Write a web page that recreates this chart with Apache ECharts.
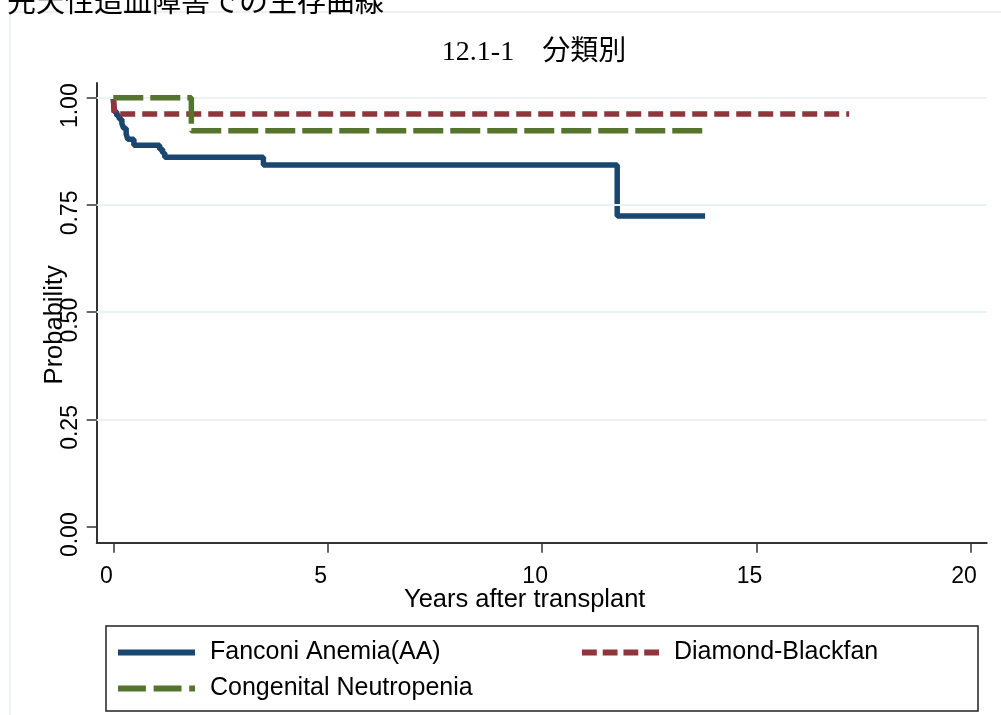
<!DOCTYPE html>
<html lang="ja">
<head>
  <meta charset="utf-8">
  <title>先天性造血障害での生存曲線</title>
  <script src="https://fastly.jsdelivr.net/npm/echarts@6.0.0/dist/echarts.min.js"></script>
  <style>
    * { margin: 0; padding: 0; }
    #main { width: 1001px; height: 715px; background: #fff; }
  </style>
</head>
<body>
  <div id="main"></div>
  <script>
    // series names
    var seriesNames = ['Fanconi Anemia(AA)', 'Diamond-Blackfan', 'Congenital Neutropenia'];

    // Kaplan-Meier steps (years, survival)
    var fanconiTime = [0, 0.02, 0.08, 0.14, 0.20, 0.24, 0.30, 0.34, 0.48, 1.08, 1.15, 1.20, 3.50, 11.75, 13.80];
    var fanconiSurv = [1, 0.967, 0.958, 0.950, 0.940, 0.929, 0.915, 0.903, 0.889, 0.880, 0.871, 0.861, 0.843, 0.724, 0.724];
    var diamondTime = [0, 0.03, 17.16];
    var diamondSurv = [1, 0.962, 0.962];
    var neutroTime = [0, 1.82, 13.85];
    var neutroSurv = [1, 0.923, 0.923];

    // axis ticks
    var xTicks = [0, 5, 10, 15, 20];
    var yTicks = [0, 0.25, 0.5, 0.75, 1];
    var yGrid = [0.25, 0.5, 0.75, 1];

    function pairs(t, s) {
      return t.map(function (v, i) { return [v, s[i]]; });
    }

    var sansFont = "'Liberation Sans', Arial, sans-serif";
    var colors = ['#1a476f', '#90353b', '#55752f'];

    // legend keys drawn as dash patterns
    var legendIcons = [
      'path://M0 0h80v6h-80z',
      'path://M0 0h15v6h-15zM21 0h15v6h-15zM42 0h15v6h-15zM63 0h15v6h-15z',
      'path://M0 0h29v6h-29zM37 0h29v6h-29zM74 0h6v6h-6z'
    ];

    var dom = document.getElementById('main');
    var myChart = echarts.init(dom, null, { renderer: 'canvas' });

    var legendText = { fontFamily: sansFont, fontSize: 25, color: '#000', padding: [0, 0, 0, 10] };

    function makeLegend(i, left, top) {
      return {
        data: [{ name: seriesNames[i], icon: legendIcons[i] }],
        left: left,
        top: top,
        padding: 0,
        itemWidth: 77,
        itemHeight: 6,
        itemGap: 15,
        textStyle: legendText
      };
    }

    var option = {
      backgroundColor: '#fff',
      animation: false,
      color: colors,
      grid: {
        left: 96.7,
        top: 83,
        right: 14.3,
        bottom: 172.3,
        containLabel: false,
        outerBoundsMode: 'none'
      },
      xAxis: {
        type: 'value',
        min: -0.387,
        max: 20.366,
        name: 'Years after transplant',
        nameLocation: 'middle',
        nameGap: 44,
        nameMoveOverlap: false,
        nameTextStyle: { fontFamily: sansFont, fontSize: 25.5, color: '#000', padding: [0, 34, 0, 0] },
        axisLine: { show: true, onZero: false, lineStyle: { color: '#333', width: 2 } },
        axisTick: { show: true, customValues: xTicks, length: 10, lineStyle: { color: '#333', width: 1.5 } },
        axisLabel: {
          customValues: xTicks,
          margin: 22,
          fontFamily: sansFont,
          fontSize: 23,
          color: '#000',
          padding: [0, 14, 0, 0]
        },
        splitLine: { show: false }
      },
      yAxis: {
        type: 'value',
        min: -0.0373,
        max: 1.0343,
        name: 'Probability',
        nameLocation: 'middle',
        nameGap: 29,
        nameRotate: 90,
        nameMoveOverlap: false,
        nameTextStyle: { fontFamily: sansFont, fontSize: 25.5, color: '#000', padding: [0, 24, 0, 0] },
        axisLine: { show: true, onZero: false, lineStyle: { color: '#333', width: 2 } },
        axisTick: { show: true, customValues: yTicks, length: 10, lineStyle: { color: '#333', width: 1.5 } },
        axisLabel: {
          customValues: yTicks,
          rotate: 90,
          margin: 15,
          fontFamily: sansFont,
          fontSize: 23,
          color: '#000',
          padding: [0, 16, 0, 0],
          formatter: function (v) { return v.toFixed(2); }
        },
        splitLine: { show: false }
      },
      legend: [
        makeLegend(0, 118, 640),
        makeLegend(1, 582, 640),
        makeLegend(2, 118, 676)
      ],
      graphic: [
        {
          type: 'polyline',
          silent: true,
          shape: { points: [[10, 720], [10, 12], [1010, 12]] },
          style: { stroke: '#e6eef0', lineWidth: 1.5, fill: null }
        },
        {
          type: 'text',
          left: 7,
          top: -14,
          style: {
            text: '先天性造血障害での生存曲線',
            font: "29px 'Noto Sans CJK JP'",
            fill: '#000'
          }
        },
        {
          type: 'text',
          x: 534,
          y: 53,
          style: {
            text: '12.1-1　分類別',
            font: "28px 'Liberation Serif', 'Noto Sans CJK JP', serif",
            fill: '#000',
            align: 'center',
            verticalAlign: 'middle'
          }
        },
        {
          type: 'rect',
          silent: true,
          shape: { x: 106, y: 626, width: 872, height: 85 },
          style: { stroke: '#222', lineWidth: 1.5, fill: null }
        }
      ],
      series: [
        {
          name: 'grid',
          type: 'line',
          data: [],
          z: 1,
          silent: true,
          markLine: {
            silent: true,
            symbol: 'none',
            label: { show: false },
            lineStyle: { color: '#eaf2f3', width: 2, type: 'solid' },
            data: yGrid.map(function (v) { return { yAxis: v }; })
          }
        },
        {
          name: seriesNames[0],
          type: 'line',
          step: 'end',
          symbol: 'none',
          z: 3,
          lineStyle: { color: colors[0], width: 5.5, cap: 'butt' },
          itemStyle: { color: colors[0] },
          data: pairs(fanconiTime, fanconiSurv)
        },
        {
          name: seriesNames[1],
          type: 'line',
          step: 'end',
          symbol: 'none',
          z: 4,
          lineStyle: { color: colors[1], width: 5.5, type: [15, 7], cap: 'butt' },
          itemStyle: { color: colors[1] },
          data: pairs(diamondTime, diamondSurv)
        },
        {
          name: seriesNames[2],
          type: 'line',
          step: 'end',
          symbol: 'none',
          z: 5,
          lineStyle: { color: colors[2], width: 5.5, type: [30, 7], cap: 'butt' },
          itemStyle: { color: colors[2] },
          data: pairs(neutroTime, neutroSurv)
        }
      ]
    };

    myChart.setOption(option);
    window.addEventListener('resize', myChart.resize);
  </script>
</body>
</html>
